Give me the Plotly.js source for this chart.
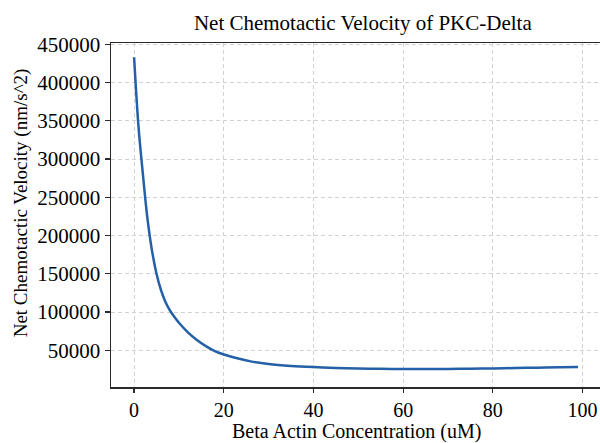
<!DOCTYPE html>
<html>
<head>
<meta charset="utf-8">
<script src="https://cdn.plot.ly/plotly-3.0.1.min.js"></script>
<style>html,body{margin:0;padding:0;background:#fff;}#chart{width:600px;height:443px;}</style>
</head>
<body>
<div id="chart"></div>
<script>
const betaActin = [0,1,2,3,4,5,6,7,8,9,10,12,14,16,18,20,23,26,30,35,40,45,50,55,60,65,70,75,80,85,90,95,99];
const velocity = [433000,341000,278000,221000,180000,150000,128500,113000,102000,93500,86000,73500,63500,55500,49000,44500,39500,35500,32000,29500,28000,27000,26200,25800,25500,25500,25600,25900,26300,26800,27300,27800,28200];
const xTicks = [0,20,40,60,80,100];
const yTicks = [50000,100000,150000,200000,250000,300000,350000,400000,450000];

const serif = '"Liberation Serif", "DejaVu Serif", serif';
const trace = {
  x: betaActin, y: velocity, type: 'scatter', mode: 'lines',
  line: {color: '#2460a7', width: 2.5, shape: 'spline', smoothing: 1}
};
const layout = {
  width: 600, height: 443,
  margin: {l: 111, r: 0, t: 43, b: 56},
  paper_bgcolor: '#fff', plot_bgcolor: '#fff',
  showlegend: false,
  font: {family: serif, color: '#000', size: 21},
  title: {text: 'Net Chemotactic Velocity of PKC-Delta', font: {family: serif, size: 21, color: '#000'},
          xref: 'paper', x: 0.515, xanchor: 'center', yref: 'container', y: 0.95, yanchor: 'middle'},
  xaxis: {
    range: [-5.15, 103.9], tickvals: xTicks, ticktext: xTicks.map(String),
    showline: true, linecolor: '#2a2a2a', linewidth: 1.5, mirror: true,
    ticks: 'outside', ticklen: 4, tickcolor: '#2a2a2a', tickwidth: 1.2,
    showgrid: true, gridcolor: '#d2d2d2', griddash: '4px,3px', gridwidth: 1,
    zeroline: false, tickfont: {family: serif, size: 20, color: '#000'}
  },
  yaxis: {
    range: [2000, 451700], tickvals: yTicks, ticktext: yTicks.map(String),
    showline: true, linecolor: '#2a2a2a', linewidth: 1.5, mirror: false,
    ticks: 'outside', ticklen: 5, tickcolor: '#2a2a2a', tickwidth: 1.2,
    showgrid: true, gridcolor: '#d2d2d2', griddash: '4px,3px', gridwidth: 1,
    zeroline: false, tickfont: {family: serif, size: 21, color: '#000'}
  },
  annotations: [{
    text: 'Net Chemotactic Velocity (nm/s^2)', textangle: -90, showarrow: false,
    xref: 'paper', yref: 'paper', x: -0.184, y: 0.534, xanchor: 'center', yanchor: 'middle',
    font: {family: serif, size: 19, color: '#000'}
  }, {
    text: 'Beta Actin Concentration (uM)', showarrow: false,
    xref: 'paper', yref: 'paper', x: 0.502, y: -0.13, xanchor: 'center', yanchor: 'middle',
    font: {family: serif, size: 20, color: '#000'}
  }]
};
Plotly.newPlot('chart', [trace], layout, {displayModeBar: false, staticPlot: true});
</script>
</body>
</html>
